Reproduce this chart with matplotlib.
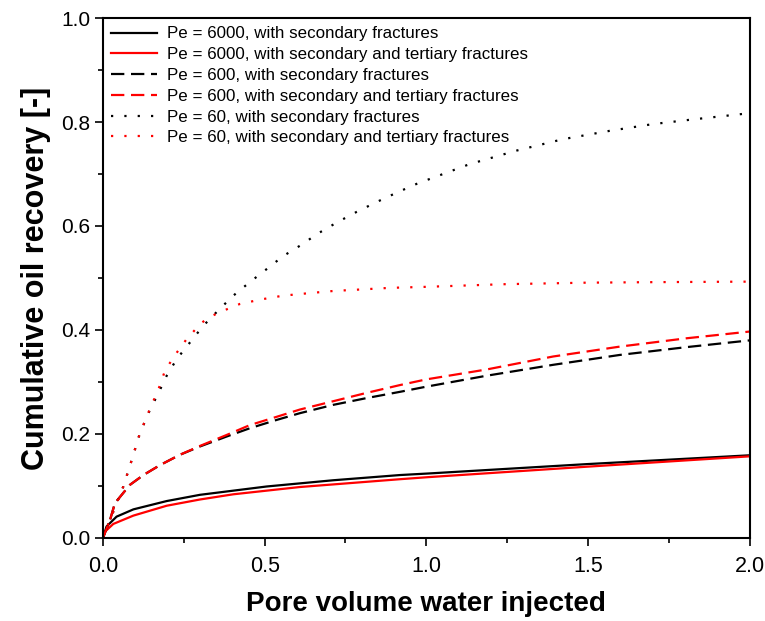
import numpy as np
import matplotlib
matplotlib.use('Agg')
import matplotlib.pyplot as plt
from matplotlib.ticker import MultipleLocator, FormatStrFormatter

plt.rcParams['font.family'] = ['Liberation Sans', 'DejaVu Sans']

# Pe = 6000, secondary fractures
x_s6000 = [0.0, 0.011, 0.042, 0.094, 0.197, 0.30, 0.403, 0.506, 0.609, 0.712, 0.815, 0.918, 1.006,
           1.495, 2.0]
y_s6000 = [0.0, 0.022, 0.041, 0.055, 0.071, 0.083, 0.091, 0.099, 0.105, 0.111, 0.116, 0.121, 0.124,
           0.142, 0.159]
# Pe = 6000, secondary and tertiary fractures
x_t6000 = [0.0, 0.006, 0.032, 0.094, 0.197, 0.30, 0.403, 0.506, 0.609, 0.712, 0.815, 0.918, 1.006,
           1.495, 2.0]
y_t6000 = [0.0, 0.012, 0.027, 0.043, 0.062, 0.074, 0.084, 0.091, 0.098, 0.103, 0.108, 0.113, 0.117,
           0.137, 0.157]
# Pe = 600, secondary fractures
x_s600 = [0.0, 0.022, 0.037, 0.083, 0.125, 0.176, 0.238, 0.30, 0.382, 0.454, 0.537, 0.609, 0.712,
          0.815, 0.918, 1.0, 1.186, 1.392, 1.598, 1.804, 2.0]
y_s600 = [0.0, 0.035, 0.067, 0.102, 0.121, 0.140, 0.160, 0.176, 0.195, 0.211, 0.227, 0.240, 0.256,
          0.269, 0.281, 0.291, 0.312, 0.333, 0.352, 0.367, 0.380]
# Pe = 600, secondary and tertiary fractures
x_t600 = [0.0, 0.022, 0.037, 0.083, 0.125, 0.176, 0.238, 0.30, 0.382, 0.454, 0.537, 0.609, 0.712,
          0.815, 0.918, 1.0, 1.186, 1.392, 1.598, 1.804, 2.0]
y_t600 = [0.0, 0.035, 0.067, 0.102, 0.121, 0.140, 0.160, 0.177, 0.198, 0.217, 0.233, 0.247, 0.263,
          0.279, 0.294, 0.305, 0.324, 0.349, 0.368, 0.384, 0.397]
# Pe = 60, secondary fractures
x_s60 = [0.0, 0.022, 0.063, 0.089, 0.114, 0.145, 0.171, 0.197, 0.228, 0.269, 0.310, 0.357, 0.403,
         0.454, 0.506, 0.557, 0.609, 0.666, 0.724, 0.784, 0.846, 0.908, 0.970, 1.0, 1.134, 1.279,
         1.423, 1.567, 1.701, 1.825, 2.0]
y_s60 = [0.0, 0.035, 0.099, 0.150, 0.201, 0.246, 0.278, 0.312, 0.344, 0.376, 0.408, 0.438, 0.466,
         0.492, 0.517, 0.542, 0.562, 0.586, 0.607, 0.627, 0.646, 0.664, 0.681, 0.688, 0.719, 0.745,
         0.767, 0.783, 0.796, 0.805, 0.817]
# Pe = 60, secondary and tertiary fractures
x_t60 = [0.0, 0.022, 0.063, 0.089, 0.114, 0.145, 0.171, 0.192, 0.223, 0.257, 0.30, 0.326, 0.372,
         0.423, 0.491, 0.557, 0.640, 0.712, 0.80, 0.887, 1.0, 1.237, 1.495, 1.701, 2.0]
y_t60 = [0.0, 0.035, 0.099, 0.150, 0.201, 0.248, 0.285, 0.322, 0.352, 0.381, 0.411, 0.424, 0.437,
         0.450, 0.459, 0.466, 0.471, 0.475, 0.478, 0.481, 0.483, 0.488, 0.491, 0.492, 0.493]

labels = ['Pe = 6000, with secondary fractures',
          'Pe = 6000, with secondary and tertiary fractures',
          'Pe = 600, with secondary fractures',
          'Pe = 600, with secondary and tertiary fractures',
          'Pe = 60, with secondary fractures',
          'Pe = 60, with secondary and tertiary fractures']

fig = plt.figure(figsize=(7.65, 6.21), dpi=100)
ax = fig.add_axes([0.1346, 0.1337, 0.8454, 0.8373])

lw = 1.6
ax.plot(x_s6000, y_s6000, color='black', lw=lw, label=labels[0])
ax.plot(x_t6000, y_t6000, color='red', lw=lw, label=labels[1])
ax.plot(x_s600, y_s600, color='black', lw=lw, dashes=(6, 3), label=labels[2])
ax.plot(x_t600, y_t600, color='red', lw=lw, dashes=(6, 3), label=labels[3])
ax.plot(x_s60, y_s60, color='black', lw=lw, dashes=(1, 5), label=labels[4])
ax.plot(x_t60, y_t60, color='red', lw=lw, dashes=(1, 5), label=labels[5])

ax.set_xlim(0, 2.0)
ax.set_ylim(0, 1.0)
ax.xaxis.set_major_locator(MultipleLocator(0.5))
ax.xaxis.set_minor_locator(MultipleLocator(0.25))
ax.yaxis.set_major_locator(MultipleLocator(0.2))
ax.yaxis.set_minor_locator(MultipleLocator(0.1))
ax.xaxis.set_major_formatter(FormatStrFormatter('%.1f'))
ax.yaxis.set_major_formatter(FormatStrFormatter('%.1f'))
ax.tick_params(which='both', direction='out', width=1.2, color='black')
ax.tick_params(which='major', length=6)
ax.tick_params(which='minor', length=3.5)
ax.tick_params(axis='y', labelsize=15, pad=3)
ax.tick_params(axis='x', labelsize=15.5, pad=7)
for s in ax.spines.values():
    s.set_linewidth(1.5)

ax.set_xlabel('Pore volume water injected', fontsize=20, fontweight='bold', labelpad=10)
ax.set_ylabel('Cumulative oil recovery [-]', fontsize=22, fontweight='bold', labelpad=7)

ax.legend(loc='upper left', frameon=False, fontsize=12.2, handlelength=2.7, handletextpad=0.6,
          labelspacing=0.34, borderaxespad=0.1, bbox_to_anchor=(0.0, 1.0))

fig.savefig('out.png', dpi=100)
